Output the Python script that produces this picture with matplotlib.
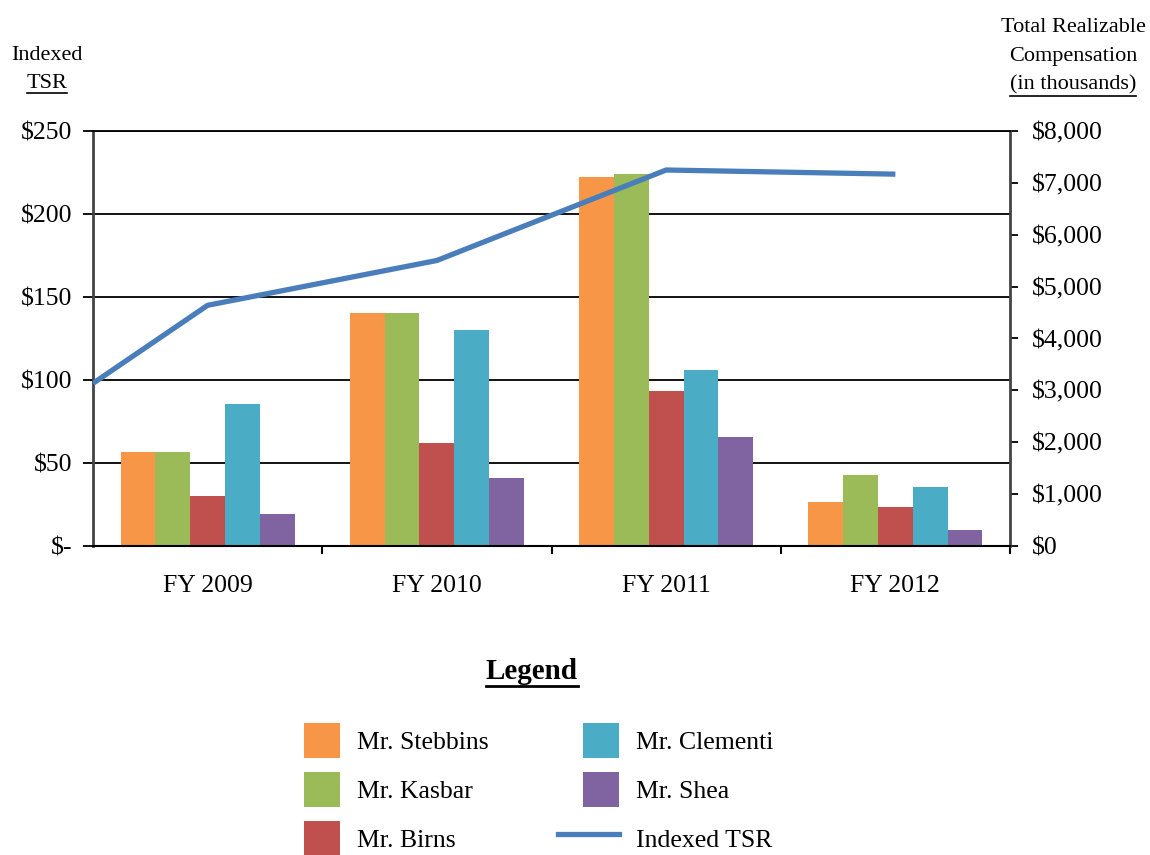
import numpy as np
import matplotlib
matplotlib.use('Agg')
import matplotlib.pyplot as plt
from matplotlib.lines import Line2D
from matplotlib.legend_handler import HandlerLine2D
from matplotlib.ticker import FuncFormatter, MultipleLocator, FixedLocator

plt.rcParams['font.family'] = ['Liberation Serif', 'DejaVu Serif']

# data
years = ['FY 2009', 'FY 2010', 'FY 2011', 'FY 2012']
execs = ['Mr. Stebbins', 'Mr. Kasbar', 'Mr. Birns', 'Mr. Clementi', 'Mr. Shea']
stebbins = [1810, 4490, 7110, 850]
kasbar = [1810, 4490, 7170, 1370]
birns = [960, 1980, 2990, 750]
clementi = [2740, 4160, 3390, 1140]
shea = [620, 1310, 2100, 310]
comp = [stebbins, kasbar, birns, clementi, shea]
colors = ['#F79646', '#9BBB59', '#C0504D', '#4BACC6', '#8064A2']

tsr_x = [-0.5, 0, 1, 2, 3]
tsr = [98, 145, 172, 226.5, 224]
tsr_color = '#4A7EBB'


class LongLine(HandlerLine2D):
    """legend line that reaches further left than the patch boxes"""
    def create_artists(self, legend, orig_handle, xdescent, ydescent, width, height, fontsize, trans):
        extra = 18
        return super().create_artists(legend, orig_handle, xdescent + extra, ydescent,
                                      width + extra, height, fontsize, trans)


W, H = 1150, 855
fig = plt.figure(figsize=(W / 100, H / 100), dpi=100)
ax = fig.add_axes([93 / W, 309 / H, 917 / W, 415 / H])
ax2 = ax.twinx()
ax3 = ax.twinx()

fs = 18.5

# left axis: TSR scale + grid
ax.set_ylim(0, 250)
ax.set_xlim(-0.5, 3.5)
ax.yaxis.set_major_locator(MultipleLocator(50))
ax.yaxis.set_major_formatter(FuncFormatter(lambda v, p: '$-' if v == 0 else f'${v:,.0f}'))
ax.grid(axis='y', color='black', lw=1.3)
ax.set_axisbelow(True)
ax.tick_params(axis='y', direction='out', length=7, width=1.3, pad=8, labelsize=fs)
ax.set_xticks(range(len(years)))
ax.set_xticklabels(years)
ax.xaxis.set_minor_locator(FixedLocator([0.5, 1.5, 2.5, 3.5]))
ax.tick_params(axis='x', which='major', length=0, pad=21, labelsize=fs)
ax.tick_params(axis='x', which='minor', direction='out', length=6, width=1.5)

# right axis: compensation bars
ax2.set_ylim(0, 8000)
ax2.yaxis.set_major_locator(MultipleLocator(1000))
ax2.yaxis.set_major_formatter(FuncFormatter(lambda v, p: f'${v:,.0f}'))
ax2.tick_params(axis='y', direction='out', length=6, width=1.3, pad=10, labelsize=fs)

x = np.arange(len(years))
bw = 0.152
handles = []
for i, (name, vals, c) in enumerate(zip(execs, comp, colors)):
    b = ax2.bar(x + (i - 2) * bw, vals, bw, color=c, label=name, zorder=2)
    handles.append(b)

# line on top axis using TSR scale
ax3.set_ylim(0, 250)
ax3.plot(tsr_x, tsr, color=tsr_color, lw=3.8, solid_capstyle='butt', label='Indexed TSR')
ax3.set_yticks([])
for s in ax3.spines.values():
    s.set_visible(False)

for s in ('left', 'right'):
    ax2.spines[s].set_color('#444444')
    ax2.spines[s].set_linewidth(2)
ax2.spines['bottom'].set_linewidth(1.5)
ax2.spines['top'].set_linewidth(1.3)
for s in ax.spines.values():
    s.set_visible(False)

tsr_handle = Line2D([], [], color=tsr_color, lw=3.8)
handles.append(tsr_handle)
labels = execs + ['Indexed TSR']

leg = fig.legend(handles, labels, loc='upper left', ncol=2,
                 bbox_to_anchor=(304 / W, 1 - 723 / H), frameon=False,
                 fontsize=fs, handlelength=1.4, handleheight=1.7,
                 handletextpad=0.65, labelspacing=0.56, columnspacing=3.7,
                 borderpad=0, borderaxespad=0,
                 handler_map={tsr_handle: LongLine()})

# headers
hdr = 16
fig.text(47 / W, 1 - 55 / H, 'Indexed', ha='center', va='center', fontsize=hdr)
t_tsr = fig.text(47 / W, 1 - 83 / H, 'TSR', ha='center', va='center', fontsize=hdr)
fig.text(1073 / W, 1 - 28 / H, 'Total Realizable', ha='center', va='center', fontsize=hdr)
fig.text(1073 / W, 1 - 57 / H, 'Compensation', ha='center', va='center', fontsize=hdr)
t_th = fig.text(1073 / W, 1 - 85 / H, '(in thousands)', ha='center', va='center', fontsize=hdr)
t_leg = fig.text(532 / W, 1 - 671 / H, 'Legend', ha='center', va='center',
                 fontsize=21, fontweight='bold')

fig.canvas.draw()
renderer = fig.canvas.get_renderer()
for t, lw in ((t_tsr, 1.2), (t_th, 1.2), (t_leg, 2.0)):
    bb = t.get_window_extent(renderer)
    y = bb.y0 - 1
    fig.add_artist(Line2D([bb.x0 / W, bb.x1 / W], [y / H, y / H],
                          transform=fig.transFigure, color='black', lw=lw))

fig.savefig('out.png', dpi=100)
